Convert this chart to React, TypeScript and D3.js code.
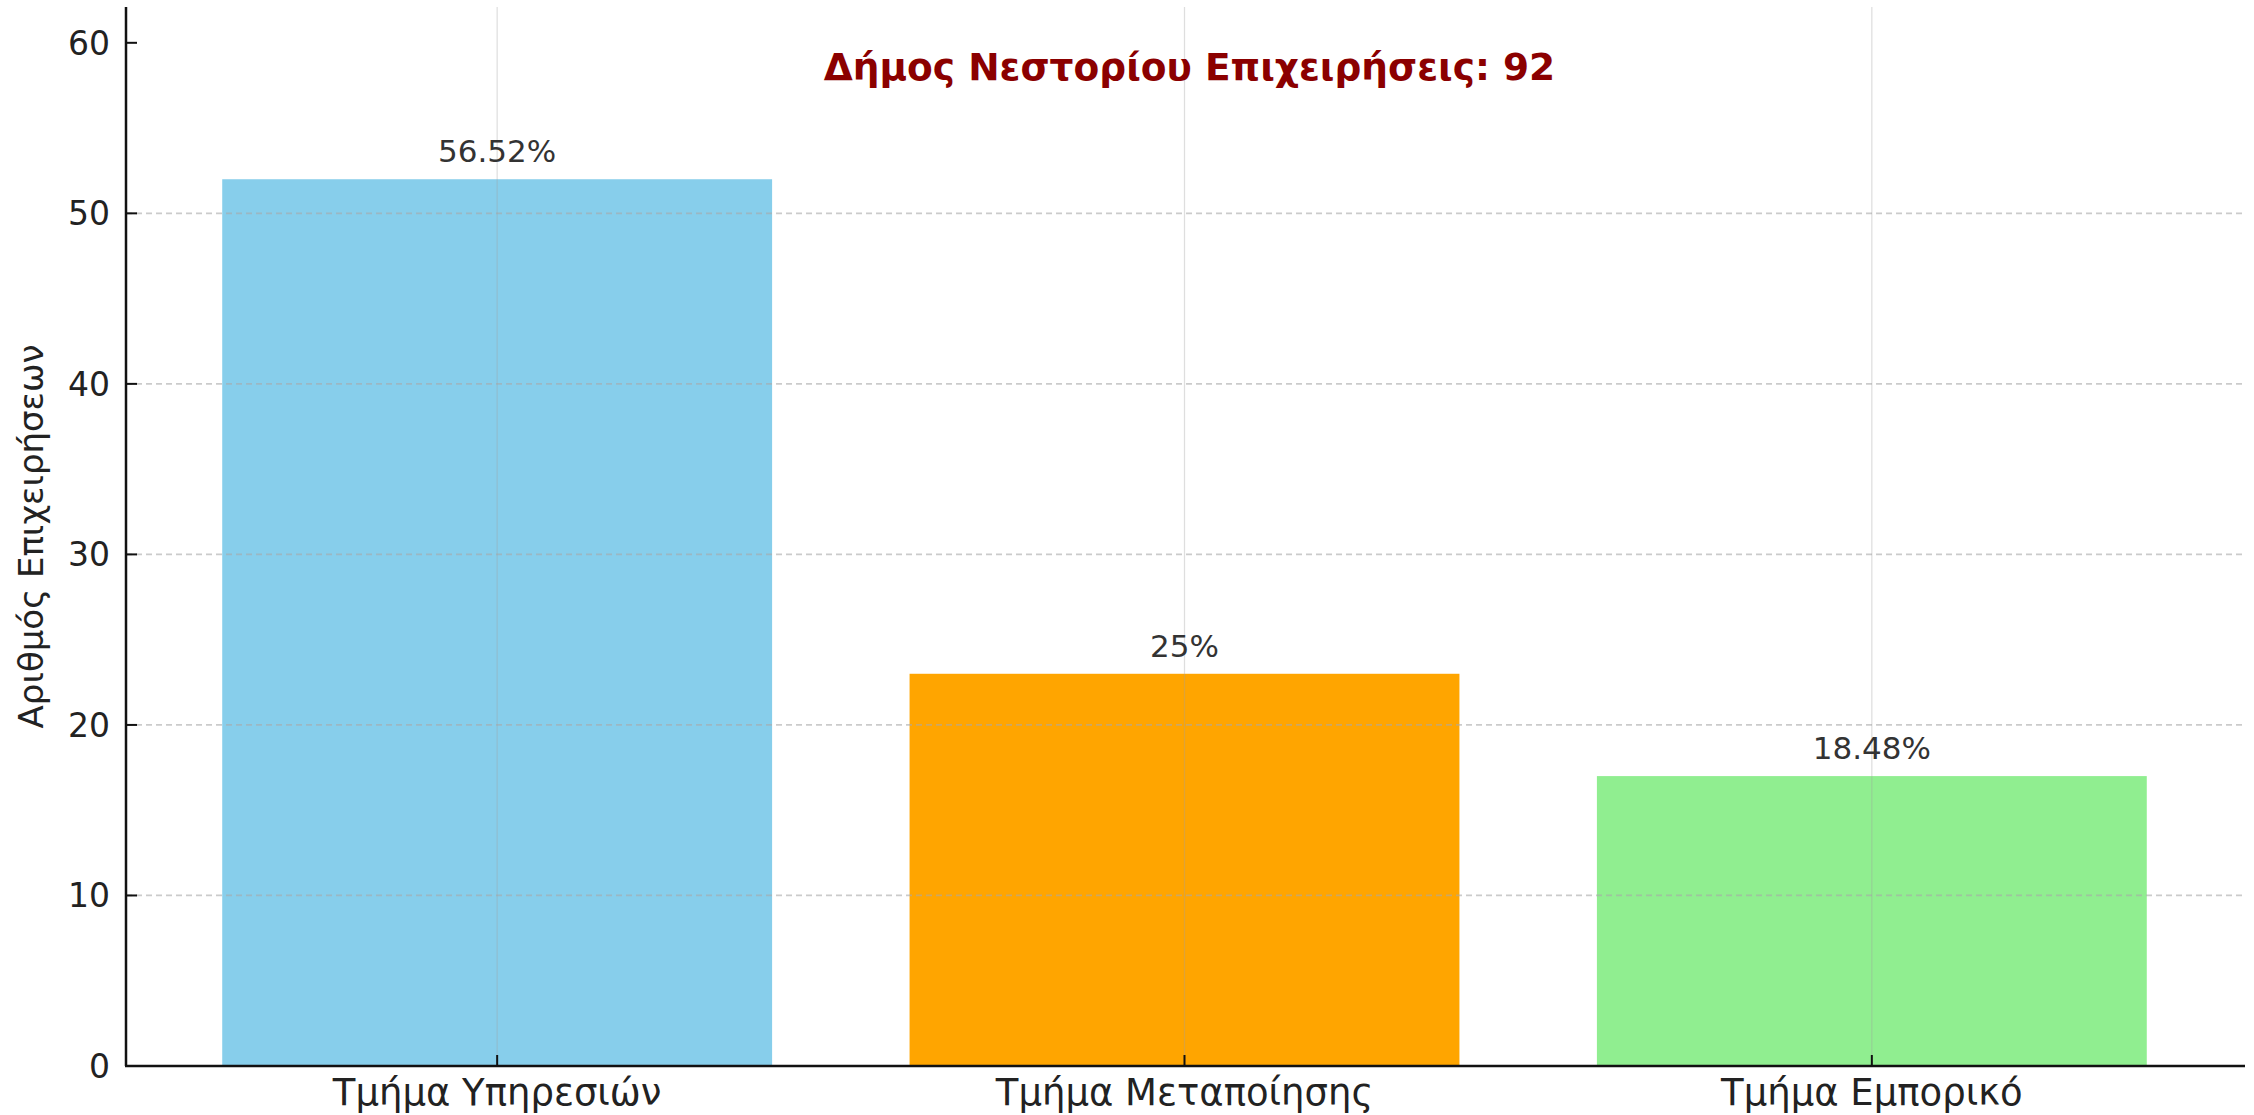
import React from "react";
import * as d3 from "d3";

const categories = ["Τμήμα Υπηρεσιών", "Τμήμα Μεταποίησης", "Τμήμα Εμπορικό"];
const counts = [52, 23, 17];
const percentLabels = ["56.52%", "25%", "18.48%"];
const barColors = ["#87CEEB", "#FFA500", "#90EE90"];
const yTicks = [0, 10, 20, 30, 40, 50, 60];
const titleText = "Δήμος Νεστορίου Επιχειρήσεις: 92";
const yLabel = "Αριθμός Επιχειρήσεων";

const W = 2254;
const H = 1115;
const left = 126;
const right = 2243;
const top = 7;
const bottom = 1066;
const FONT = "DejaVu Sans, Verdana, sans-serif";

export default function App() {
  const x = d3
    .scaleBand<string>()
    .domain(categories)
    .range([left, right])
    .paddingInner(0.2)
    .paddingOuter(0.14);
  const y = d3.scaleLinear().domain([0, 62.1]).range([bottom, top]);
  const bw = x.bandwidth();

  return (
    <svg
      width={W}
      height={H}
      style={{ position: "absolute", left: 0, top: 0, background: "#fff" }}
      fontFamily={FONT}
    >
      <rect x={0} y={0} width={W} height={H} fill="#fff" />
      {/* bars */}
      {categories.map((c, i) => (
        <rect
          key={c}
          x={x(c)!}
          y={y(counts[i])}
          width={bw}
          height={y(0) - y(counts[i])}
          fill={barColors[i]}
        />
      ))}
      {/* horizontal grid */}
      {yTicks
        .filter((t) => t > 0 && t < 60)
        .map((t) => (
          <line
            key={"g" + t}
            x1={left}
            x2={right}
            y1={y(t)}
            y2={y(t)}
            stroke="#a8a8a8"
            strokeOpacity={0.6}
            strokeWidth={1.8}
            strokeDasharray="6,4"
          />
        ))}
      {/* vertical grid */}
      {categories.map((c) => (
        <line
          key={"vg" + c}
          x1={x(c)! + bw / 2}
          x2={x(c)! + bw / 2}
          y1={top}
          y2={bottom}
          stroke="#a0a0a0"
          strokeOpacity={0.35}
          strokeWidth={1.2}
        />
      ))}
      {/* bar value labels */}
      {categories.map((c, i) => (
        <text
          key={"l" + c}
          x={x(c)! + bw / 2}
          y={y(counts[i]) - 17}
          textAnchor="middle"
          fontSize={31}
          fill="#333"
        >
          {percentLabels[i]}
        </text>
      ))}
      {/* title */}
      <text
        x={(left + right) / 2 + 5}
        y={80}
        textAnchor="middle"
        fontSize={37.5}
        fontWeight="bold"
        fill="#8B0000"
      >
        {titleText}
      </text>
      {/* axes */}
      <line x1={left} x2={left} y1={top} y2={bottom} stroke="#111" strokeWidth={2.5} />
      <line x1={left - 1} x2={right + 2} y1={bottom} y2={bottom} stroke="#111" strokeWidth={2.5} />
      {/* y ticks */}
      {yTicks.map((t) => (
        <g key={"yt" + t}>
          <line x1={left} x2={left + 11} y1={y(t)} y2={y(t)} stroke="#111" strokeWidth={2} />
          <text
            x={left - 16}
            y={y(t)}
            dy="0.36em"
            textAnchor="end"
            fontSize={33}
            fill="#222"
          >
            {t}
          </text>
        </g>
      ))}
      {/* x ticks */}
      {categories.map((c) => (
        <g key={"xt" + c}>
          <line
            x1={x(c)! + bw / 2}
            x2={x(c)! + bw / 2}
            y1={bottom}
            y2={bottom - 11}
            stroke="#111"
            strokeWidth={2}
          />
          <text
            x={x(c)! + bw / 2}
            y={1105}
            textAnchor="middle"
            fontSize={37}
            fill="#222"
          >
            {c}
          </text>
        </g>
      ))}
      {/* y label */}
      <text
        transform={`translate(43, ${(top + bottom) / 2}) rotate(-90)`}
        textAnchor="middle"
        fontSize={34}
        fill="#222"
      >
        {yLabel}
      </text>
    </svg>
  );
}
